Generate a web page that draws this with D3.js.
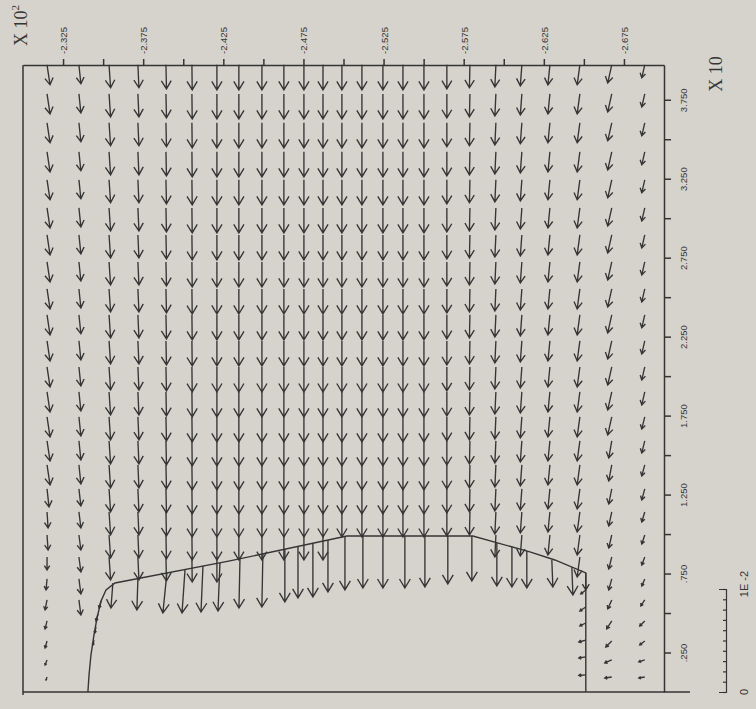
<!DOCTYPE html>
<html>
<head>
<meta charset="utf-8">
<script src="https://cdn.jsdelivr.net/npm/d3@7"></script>
<style>
  body { margin: 0; background: #d6d3cd; }
  svg { display: block; }
  .tick text { font-family: "Liberation Sans", Arial, sans-serif; font-size: 9.5px; fill: #363636; }
</style>
</head>
<body>
<svg id="chart" width="756" height="709"></svg>
<script>
// Rotated vector plot: x (x10) runs up the page, y (x10^2) runs across the top.
// Velocities below are in units of 1E-3 (the scale bar is 1E-2).

// grid rows (x, x10) and columns (y, x10^2)
const rowX = [3.971, 3.787, 3.604, 3.420, 3.243, 3.065, 2.894, 2.723, 2.552, 2.388,
              2.223, 2.058, 1.900, 1.742, 1.590, 1.438, 1.286, 1.140, 0.994, 0.855,
              0.716, 0.583, 0.450, 0.323, 0.203, 0.095];
const colY = [-2.3150, -2.3349, -2.3537, -2.3717, -2.3892, -2.4054, -2.4210, -2.4347,
              -2.4491, -2.4628, -2.4753, -2.4872, -2.4990, -2.5115, -2.5246, -2.5371,
              -2.5502, -2.5645, -2.5789, -2.5951, -2.6113, -2.6288, -2.6475, -2.6674, -2.6880];
// how many rows (from the top) carry an arrow in each column
const colRows = [26, 22, 20, 20, 20, 20, 20, 19, 19, 19, 19, 19, 18, 18, 18, 18,
                 18, 18, 18, 19, 19, 19, 20, 26, 26];
// velocity in the open flow, per column
const colVx = [-1.94, -1.84, -2.23, -2.23, -2.33, -2.43, -2.43, -2.43, -2.43, -2.43,
               -2.43, -2.43, -2.43, -2.43, -2.43, -2.43, -2.43, -2.33, -2.23, -2.14,
               -2.04, -1.94, -1.94, -1.75, -1.26];
const colVy = [-0.29, -0.19, -0.15, -0.10, -0.05, -0.03, 0, 0, 0, 0,
               0, 0, 0, 0, 0, 0, 0, 0, 0.05, 0.10,
               0.15, 0.19, 0.26, 0.39, 0.29];

// outer columns: arrows shrink and turn near the bottom wall
const taperCol = [0, 0, 0, 0, 0, 0, 0, 0, 0, 0,
                  1, 1, 1, 1, 1, 1,
                  23, 23, 23, 23, 23, 23, 23, 23, 23, 23, 23, 23,
                  24, 24, 24, 24, 24, 24, 24, 24, 24, 24, 24, 24, 24];
const taperRow = [16, 17, 18, 19, 20, 21, 22, 23, 24, 25,
                  16, 17, 18, 19, 20, 21,
                  14, 15, 16, 17, 18, 19, 20, 21, 22, 23, 24, 25,
                  13, 14, 15, 16, 17, 18, 19, 20, 21, 22, 23, 24, 25];
const taperVx = [-1.75, -1.55, -1.46, -1.26, -1.07, -0.97, -0.78, -0.68, -0.49, -0.29,
                 -1.65, -1.55, -1.46, -1.46, -1.46, -1.46,
                 -1.65, -1.55, -1.46, -1.36, -1.26, -1.17, -1.07, -0.87, -0.78, -0.58, -0.29, -0.10,
                 -1.17, -1.17, -1.07, -1.07, -0.97, -0.87, -0.78, -0.68, -0.58, -0.49, -0.39, -0.19, -0.10];
const taperVy = [-0.19, -0.10, -0.10, 0, 0.10, 0.19, 0.19, 0.19, 0.19, 0.10,
                 -0.19, -0.19, -0.19, -0.19, -0.19, -0.19,
                 0.29, 0.29, 0.29, 0.29, 0.29, 0.29, 0.29, 0.39, 0.49, 0.58, 0.68, 0.68,
                 0.29, 0.29, 0.29, 0.29, 0.29, 0.29, 0.29, 0.29, 0.39, 0.49, 0.49, 0.58, 0.58];

// nodes on the solid boundary (top edge of the obstacle)
const edgeY  = [-2.3561, -2.3717, -2.3898, -2.4011, -2.4123, -2.4229, -2.4354, -2.4497,
                -2.4634, -2.4716, -2.4809, -2.4903, -2.5009, -2.5121, -2.5246, -2.5383,
                -2.5508, -2.5651, -2.5801, -2.5957, -2.6051, -2.6144, -2.6300, -2.6425, -2.6512,
                -2.3487, -2.3468, -2.3455, -2.3443,
                -2.6512, -2.6512, -2.6512, -2.6512, -2.6512, -2.6512];
const edgeX  = [0.690, 0.716, 0.754, 0.773, 0.798, 0.817, 0.842, 0.874,
                0.906, 0.925, 0.944, 0.963, 0.988, 0.988, 0.988, 0.988,
                0.988, 0.988, 0.988, 0.944, 0.918, 0.893, 0.836, 0.792, 0.754,
                0.576, 0.494, 0.412, 0.329,
                0.646, 0.538, 0.437, 0.329, 0.222, 0.108];
const edgeVx = [-2.43, -3.01, -3.88, -4.17, -4.47, -4.66, -4.76, -5.15,
                -5.15, -5.05, -5.24, -5.05, -5.24, -5.05, -5.05, -5.05,
                -4.95, -4.66, -4.37, -4.17, -3.88, -3.59, -2.62, -2.72, -1.65,
                -0.68, -0.68, -0.58, -0.49,
                -0.39, -0.39, -0.29, -0.19, -0.10, -0.05];
const edgeVy = [0.19, 0.10, 0.39, 0.29, 0.19, 0.19, 0.10, 0.10,
                0, 0, 0, 0, 0, 0, 0, 0,
                0, 0, 0, 0, 0, 0, -0.10, -0.10, 0,
                0.19, 0.19, 0.10, 0.10,
                0.49, 0.58, 0.58, 0.68, 0.68, 0.68];

// outline of the obstacle
const wallY = [-2.3405, -2.3412, -2.3424, -2.3443, -2.3462, -2.3487, -2.3518, -2.3574,
               -2.4291, -2.5021, -2.5807, -2.6163, -2.6319, -2.6512, -2.6512];
const wallX = [0, 0.108, 0.234, 0.361, 0.469, 0.576, 0.646, 0.690,
               0.830, 0.988, 0.988, 0.887, 0.836, 0.754, 0];

// axes
const topTicks = [-2.325, -2.350, -2.375, -2.400, -2.425, -2.450, -2.475, -2.500,
                  -2.525, -2.550, -2.575, -2.600, -2.625, -2.650, -2.675];
const topLabels = ["-2.325", "", "-2.375", "", "-2.425", "", "-2.475", "",
                   "-2.525", "", "-2.575", "", "-2.625", "", "-2.675"];
const rightTicks = [0.25, 0.5, 0.75, 1.0, 1.25, 1.5, 1.75, 2.0, 2.25, 2.5, 2.75,
                    3.0, 3.25, 3.5, 3.75];
const rightLabels = [".250", "", ".750", "", "1.250", "", "1.750", "", "2.250", "",
                     "2.750", "", "3.250", "", "3.750"];

const ink = "#353535";
const svg = d3.select("#chart");

const xScale = d3.scaleLinear().domain([0, 3.97]).range([692, 65]);
const yScale = d3.scaleLinear().domain([-2.30, -2.70]).range([23, 664]);
// length of a velocity in pixels (1E-2 -> 103 px)
const vecScale = d3.scaleLinear().domain([0, 1e-2]).range([0, 103]);
const unit = 1e-3;

// collect arrows
const taper = new Map();
taperCol.forEach((c, i) => taper.set(c + "_" + taperRow[i], [taperVx[i], taperVy[i]]));

const arrows = [];
colY.forEach((cy, i) => {
  for (let r = 0; r < colRows[i]; r++) {
    const t = taper.get(i + "_" + r);
    arrows.push({ y: cy, x: rowX[r], vx: t ? t[0] : colVx[i], vy: t ? t[1] : colVy[i] });
  }
});
edgeY.forEach((ey, i) => arrows.push({ y: ey, x: edgeX[i], vx: edgeVx[i], vy: edgeVy[i] }));

function arrowPath(d) {
  const x0 = yScale(d.y), y0 = xScale(d.x);
  const dx = -vecScale(d.vy * unit), dy = -vecScale(d.vx * unit);
  const x1 = x0 + dx, y1 = y0 + dy;
  const len = Math.hypot(dx, dy);
  if (len < 0.5) return "";
  const ux = dx / len, uy = dy / len;
  const h = Math.min(9, len * 0.34), w = h * 0.6;
  const bx = x1 - ux * h, by = y1 - uy * h;
  return `M${x0},${y0}L${x1},${y1}` +
    `M${bx - uy * w},${by + ux * w}L${x1},${y1}L${bx + uy * w},${by - ux * w}`;
}

svg.append("g")
  .selectAll("path")
  .data(arrows)
  .join("path")
  .attr("d", arrowPath)
  .attr("fill", "none")
  .attr("stroke", ink)
  .attr("stroke-width", 1.35)
  .attr("stroke-linejoin", "miter");

// obstacle outline
svg.append("path")
  .datum(wallY.map((y, i) => [y, wallX[i]]))
  .attr("d", d3.line().x(d => yScale(d[0])).y(d => xScale(d[1])))
  .attr("fill", "none")
  .attr("stroke", ink)
  .attr("stroke-width", 1.4);

// frame
const [plotLeft, plotRight] = yScale.range();
const [plotBottom, plotTop] = xScale.range();
svg.append("line").attr("x1", plotLeft).attr("x2", plotLeft).attr("y1", plotTop).attr("y2", plotBottom + 3)
  .attr("stroke", ink).attr("stroke-width", 1.5);
svg.append("line").attr("x1", plotLeft).attr("x2", plotRight + 26).attr("y1", plotBottom).attr("y2", plotBottom)
  .attr("stroke", ink).attr("stroke-width", 1.5);

// top axis
const topAxis = svg.append("g")
  .attr("transform", `translate(0,${plotTop})`)
  .call(d3.axisTop(yScale).tickValues(topTicks).tickSizeInner(6).tickSizeOuter(0)
    .tickFormat((d, i) => topLabels[i]));
topAxis.selectAll("path, line").attr("stroke", ink).attr("stroke-width", 1.5);
topAxis.selectAll("text")
  .attr("transform", "rotate(-90)")
  .attr("x", 11).attr("y", 3.5).attr("dy", 0)
  .attr("text-anchor", "start");

// right axis
const rightAxis = svg.append("g")
  .attr("transform", `translate(${plotRight},0)`)
  .call(d3.axisRight(xScale).tickValues(rightTicks).tickSizeInner(7).tickSizeOuter(0)
    .tickFormat((d, i) => rightLabels[i]));
rightAxis.selectAll("path, line").attr("stroke", ink).attr("stroke-width", 1.5);
rightAxis.selectAll("text")
  .attr("transform", "rotate(-90)")
  .attr("x", 0).attr("y", 23).attr("dy", 0)
  .attr("text-anchor", "middle");

// multipliers
const serif = '"Liberation Serif", "Times New Roman", serif';
const mult = svg.append("text")
  .attr("transform", "translate(27,46) rotate(-90)")
  .attr("font-family", serif).attr("font-size", 18).attr("fill", ink);
mult.append("tspan").text("X 10");
mult.append("tspan").attr("dy", -8).attr("font-size", 11).text("2");

svg.append("text")
  .attr("transform", `translate(722,${plotTop + 9}) rotate(-90)`)
  .attr("text-anchor", "middle")
  .attr("font-family", serif).attr("font-size", 18).attr("fill", ink)
  .text("X 10");

// scale bar 0 .. 1E-2
const barScale = d3.scaleLinear().domain([0, 1e-2]).range([plotBottom, plotBottom - vecScale(1e-2)]);
const bar = svg.append("g")
  .attr("transform", "translate(726,0)")
  .call(d3.axisLeft(barScale).ticks(10).tickSizeInner(3).tickSizeOuter(7).tickFormat(""));
bar.selectAll("path, line").attr("stroke", ink).attr("stroke-width", 1.2);

const sans = '"Liberation Sans", Arial, sans-serif';
svg.append("text")
  .attr("transform", `translate(748,${barScale(0)}) rotate(-90)`)
  .attr("text-anchor", "middle")
  .attr("font-family", sans).attr("font-size", 11).attr("fill", ink)
  .text("0");
svg.append("text")
  .attr("transform", `translate(748,${barScale(1e-2) - 5}) rotate(-90)`)
  .attr("text-anchor", "middle")
  .attr("font-family", sans).attr("font-size", 11).attr("fill", ink)
  .text("1E -2");
</script>
</body>
</html>
